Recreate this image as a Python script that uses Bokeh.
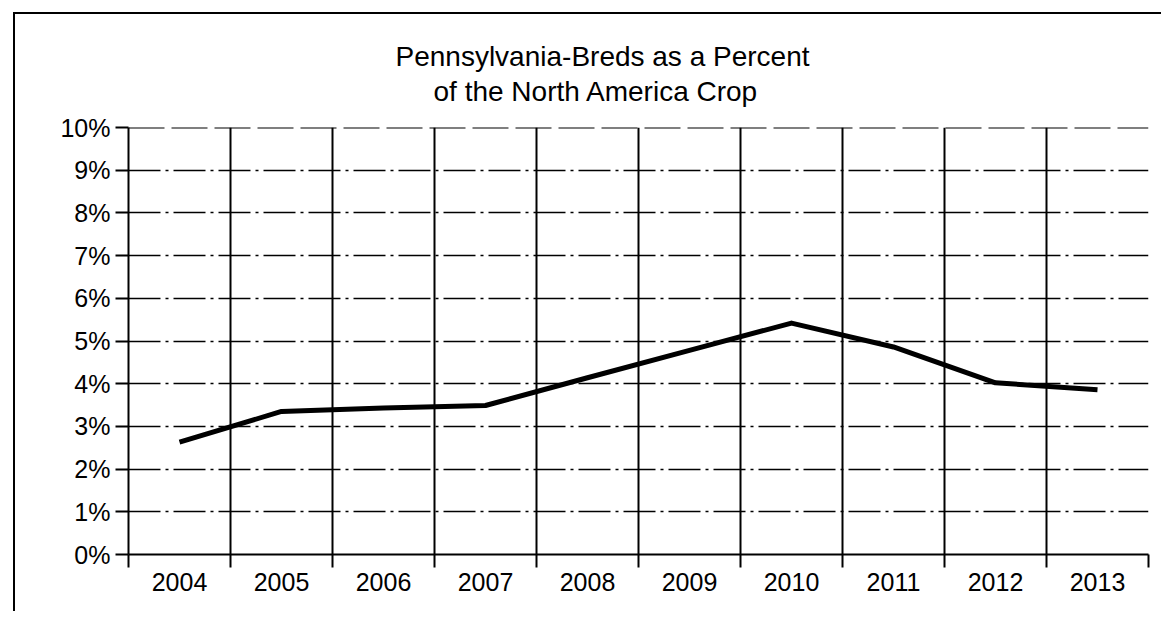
from bokeh.plotting import figure
from bokeh.models import Range1d, FixedTicker, PrintfTickFormatter, Span, Title
from bokeh.embed import file_html
from bokeh.resources import INLINE

# ---- data ----
years = ["2004", "2005", "2006", "2007", "2008", "2009", "2010", "2011", "2012", "2013"]
pct = [2.63, 3.35, 3.43, 3.49, 4.14, 4.78, 5.42, 4.86, 4.02, 3.86]
y_ticks = [0, 1, 2, 3, 4, 5, 6, 7, 8, 9, 10]
title_line1 = "Pennsylvania-Breds as a Percent"
title_line2 = "of the North America Crop"

n = len(years)
xs = [i + 0.5 for i in range(n)]
boundaries = [float(i) for i in range(n + 1)]
ymax = y_ticks[-1]

TICK_FONT = "Liberation Sans"
TITLE_FONT = "Liberation Sans"

p = figure(width=1148, height=599,
           x_range=Range1d(0, n), y_range=Range1d(0, ymax),
           output_backend="svg", toolbar_location=None, title=None,
           min_border_left=113, min_border_right=15,
           min_border_top=113, min_border_bottom=59)
p.outline_line_color = None
p.background_fill_color = "white"
p.border_fill_color = "white"
p.styles = {"border-top": "2px solid black", "border-left": "2px solid black",
            "margin-left": "13px", "margin-top": "12px"}

# spacer between frame and title (white, invisible)
spacer = Title(text=".", text_font=TITLE_FONT, text_font_size="10px",
               text_color="white", standoff=10)
t2 = Title(text=title_line2, align="left", offset=305,
           text_font=TITLE_FONT, text_font_size="28px", text_font_style="normal",
           text_color="black", standoff=2)
t1 = Title(text=title_line1, align="left", offset=267,
           text_font=TITLE_FONT, text_font_size="28px", text_font_style="normal",
           text_color="black", standoff=2)
p.add_layout(spacer, "above")
p.add_layout(t2, "above")
p.add_layout(t1, "above")

# x axis: labels at category centers, tick marks / gridlines at boundaries
xa = p.xaxis[0]
xa.ticker = FixedTicker(ticks=xs, minor_ticks=boundaries)
xa.major_label_overrides = {x: y for x, y in zip(xs, years)}
xa.major_tick_out = 0
xa.major_tick_in = 0
xa.minor_tick_out = 13
xa.minor_tick_in = 0
xa.minor_tick_line_color = "black"
xa.minor_tick_line_width = 2
xa.axis_line_color = "black"
xa.axis_line_width = 2
xa.major_label_text_font = TICK_FONT
xa.major_label_text_font_size = "25px"
xa.major_label_text_color = "black"
xa.major_label_standoff = 5

ya = p.yaxis[0]
ya.ticker = FixedTicker(ticks=y_ticks, minor_ticks=[])
ya.formatter = PrintfTickFormatter(format="%d%%")
ya.major_tick_out = 13
ya.major_tick_in = 0
ya.major_tick_line_color = "black"
ya.major_tick_line_width = 2
ya.minor_tick_line_color = None
ya.axis_line_color = "black"
ya.axis_line_width = 2
ya.major_label_text_font = TICK_FONT
ya.major_label_text_font_size = "25px"
ya.major_label_text_color = "black"
ya.major_label_standoff = 5

xg = p.xgrid[0]
xg.grid_line_color = None
xg.minor_grid_line_color = "black"
xg.minor_grid_line_width = 2

yg = p.ygrid[0]
yg.ticker = FixedTicker(ticks=y_ticks[1:-1])
yg.grid_line_color = "black"
yg.grid_line_width = 1.5
yg.grid_line_dash = "32 5 3 5"

top = Span(location=ymax, dimension="width", line_color="black",
           line_width=2, line_dash="36 7")
p.add_layout(top)

p.line(xs, pct, line_width=5, line_color="black", line_join="round")

open("out.html", "w").write(file_html(p, INLINE))
